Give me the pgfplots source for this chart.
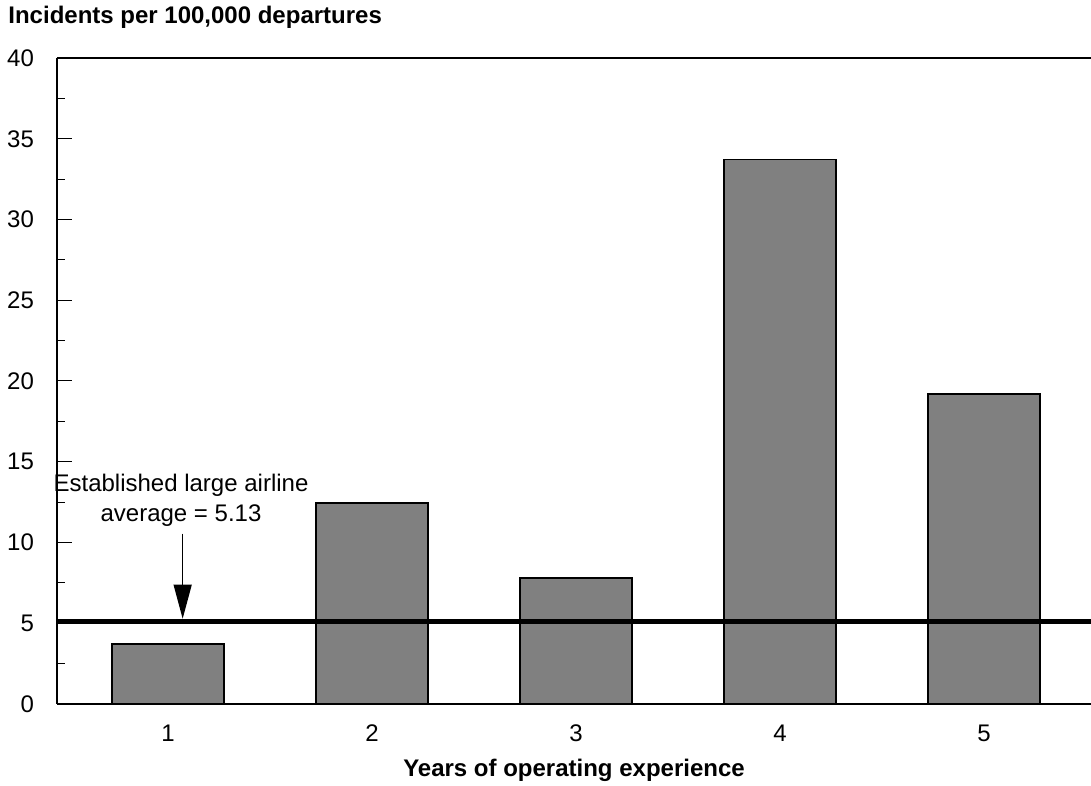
\documentclass[border=0pt]{standalone}
\usepackage{fontspec}
\setmainfont{Liberation Sans}
\usepackage{pgfplots}
\pgfplotsset{compat=1.18}
\usetikzlibrary{arrows.meta}
\definecolor{bargray}{RGB}{128,128,128}
\begin{document}
\begin{tikzpicture}
\begin{axis}[
  scale only axis, width=517pt, height=323pt,
  xmin=0.456, xmax=5.525, ymin=0, ymax=40,
  axis x line*=bottom, axis y line*=left,
  axis line style={line width=0.75pt, -},
  xtick={1,2,3,4,5}, xtick style={draw=none},
  ytick={0,5,...,40}, minor ytick={2.5,7.5,...,37.5},
  tick align=inside, major tick length=7.5pt, minor tick length=4pt,
  tick style={black, line width=0.5pt},
  ticklabel style={font=\fontsize{12}{14}\selectfont},
  /pgf/number format/assume math mode=true,
  yticklabel style={xshift=-8pt},
  xticklabel style={yshift=-7pt},
  xlabel={Years of operating experience},
  xlabel style={at={(rel axis cs:0.5,0)}, anchor=base, yshift=-36.5pt, font=\fontsize{12}{14}\selectfont\bfseries},
]
\addplot[ybar, bar width=0.55, fill=bargray, draw=black, line width=0.75pt]
  coordinates {(1,3.7) (2,12.45) (3,7.8) (4,33.7) (5,19.2)};
\addplot[black, line width=2.5pt, forget plot]
  coordinates {(0.456,5.13) (5.525,5.13)};
\draw[line width=0.6pt, -{Triangle[length=17pt,width=9pt]}] (axis cs:1.072,10.55) -- (axis cs:1.072,5.28);
\coordinate (t1) at (axis cs:1.064,13.17);
\coordinate (t2) at (axis cs:1.064,11.31);
\coordinate (sw) at (rel axis cs:0,0);
\coordinate (nw) at (rel axis cs:0,1);
\coordinate (ne) at (rel axis cs:1,1);
\end{axis}
\draw[line width=0.9pt] (nw) -- (ne);
\node[anchor=base, inner sep=0pt, font=\fontsize{12}{14}\selectfont] at (t1) {Established large airline};
\node[anchor=base, inner sep=0pt, font=\fontsize{12}{14}\selectfont] at (t2) {average = 5.13};
\node[anchor=base west, inner sep=0pt, font=\fontsize{12}{14}\selectfont\bfseries] at ([shift={(-24.5pt,17pt)}]nw) {Incidents per 100,000 departures};
\pgfresetboundingbox
\path ([shift={(-28.5pt,-41pt)}]sw) rectangle ([shift={(0pt,29pt)}]ne);
\end{tikzpicture}
\end{document}
